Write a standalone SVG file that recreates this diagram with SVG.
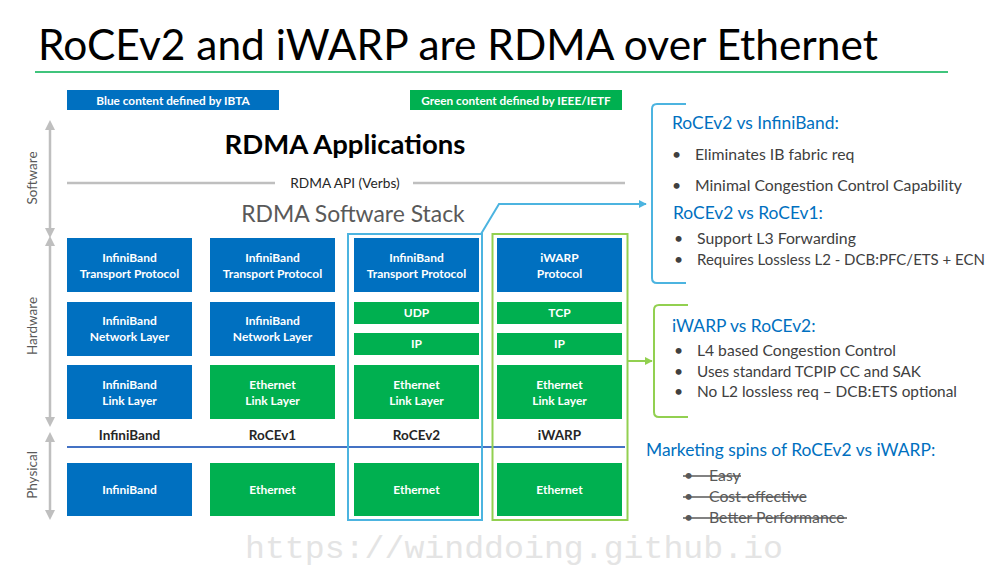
<svg xmlns="http://www.w3.org/2000/svg" width="995" height="567" viewBox="0 0 995 567">
  <style>
    text { font-family: Lato, "Open Sans", "Liberation Sans", sans-serif; }
    .title { font-size: 42px; fill: #000; }
    .legend { font-size: 11.8px; font-weight: bold; fill: #fff; text-anchor: middle; }
    .box-blue { fill: #0070C0; }
    .box-green { fill: #00B050; }
    .bt { font-size: 12px; font-weight: bold; fill: #fff; text-anchor: middle; }
    .col { font-size: 13.5px; font-weight: bold; fill: #262626; text-anchor: middle; }
    .axis { stroke: #BFBFBF; stroke-width: 2.5; fill: none; }
    .axl { font-size: 13.5px; fill: #595959; text-anchor: middle; }
    .h { font-size: 17.4px; fill: #0070C0; }
    .b { font-size: 15.8px; fill: #404040; }
    .s { font-size: 15.8px; fill: #595959; }
    .strike { stroke: #595959; stroke-width: 1.4; }
    .mark { font-family: "Liberation Mono", monospace; font-size: 32px; fill: #E4E4E4; }
  </style>
  <defs>
    <marker id="arrGrey" viewBox="0 0 10 10" refX="5" refY="5" markerWidth="4" markerHeight="4" orient="auto-start-reverse">
      <path d="M0,0 L10,5 L0,10 z" fill="#BFBFBF"/>
    </marker>
    <marker id="arrBlue" viewBox="0 0 10 10" refX="9" refY="5" markerWidth="4" markerHeight="4" orient="auto">
      <path d="M0,0 L10,5 L0,10 z" fill="#4CB4E0"/>
    </marker>
    <marker id="arrGreen" viewBox="0 0 10 10" refX="9" refY="5" markerWidth="4" markerHeight="4" orient="auto">
      <path d="M0,0 L10,5 L0,10 z" fill="#92D050"/>
    </marker>
  </defs>

  <rect width="995" height="567" fill="#fff"/>

  <!-- title -->
  <text class="title" x="38" y="60" textLength="840" lengthAdjust="spacingAndGlyphs">RoCEv2 and iWARP are RDMA over Ethernet</text>
  <line x1="35" y1="72" x2="948" y2="72" stroke="#00B050" stroke-width="1.5"/>

  <!-- legend -->
  <g id="legend-ibta">
    <rect x="67" y="90" width="212" height="20" class="box-blue"/>
    <text class="legend" x="173" y="104.5">Blue content defined by IBTA</text>
  </g>
  <g id="legend-ieee">
    <rect x="410" y="90" width="212" height="20" class="box-green"/>
    <text class="legend" x="516" y="104.5">Green content defined by IEEE/IETF</text>
  </g>

  <!-- layer axes -->
  <g id="axes">
    <line class="axis" x1="50" y1="125" x2="50" y2="233" marker-start="url(#arrGrey)" marker-end="url(#arrGrey)"/>
    <line class="axis" x1="50" y1="241" x2="50" y2="422" marker-start="url(#arrGrey)" marker-end="url(#arrGrey)"/>
    <line class="axis" x1="50" y1="437" x2="50" y2="515" marker-start="url(#arrGrey)" marker-end="url(#arrGrey)"/>
    <text class="axl" transform="translate(37,178) rotate(-90)">Software</text>
    <text class="axl" transform="translate(37,326) rotate(-90)">Hardware</text>
    <text class="axl" transform="translate(37,475) rotate(-90)">Physical</text>
  </g>

  <!-- software stack -->
  <g id="software">
    <text x="345" y="154" font-size="27.5" font-weight="bold" fill="#000" text-anchor="middle">RDMA Applications</text>
    <line x1="67" y1="183" x2="275" y2="183" stroke="#BFBFBF" stroke-width="2.5"/>
    <line x1="413" y1="183" x2="625" y2="183" stroke="#BFBFBF" stroke-width="2.5"/>
    <text x="345" y="188" font-size="13.7" fill="#262626" text-anchor="middle">RDMA API (Verbs)</text>
    <text x="353" y="222" font-size="22.9" fill="#595959" text-anchor="middle">RDMA Software Stack</text>
  </g>

  <!-- column 1: InfiniBand -->
  <g id="col-infiniband">
    <rect x="67" y="238" width="125" height="54" class="box-blue"/>
    <text class="bt" x="129.5" y="262">InfiniBand</text>
    <text class="bt" x="129.5" y="278">Transport Protocol</text>
    <rect x="67" y="302" width="125" height="54" class="box-blue"/>
    <text class="bt" x="129.5" y="325">InfiniBand</text>
    <text class="bt" x="129.5" y="341">Network Layer</text>
    <rect x="67" y="365" width="125" height="54" class="box-blue"/>
    <text class="bt" x="129.5" y="389">InfiniBand</text>
    <text class="bt" x="129.5" y="405">Link Layer</text>
    <text class="col" x="129.5" y="440">InfiniBand</text>
    <rect x="67" y="463" width="125" height="53" class="box-blue"/>
    <text class="bt" x="129.5" y="494">InfiniBand</text>
  </g>

  <!-- column 2: RoCEv1 -->
  <g id="col-rocev1">
    <rect x="210" y="238" width="125" height="54" class="box-blue"/>
    <text class="bt" x="272.5" y="262">InfiniBand</text>
    <text class="bt" x="272.5" y="278">Transport Protocol</text>
    <rect x="210" y="302" width="125" height="54" class="box-blue"/>
    <text class="bt" x="272.5" y="325">InfiniBand</text>
    <text class="bt" x="272.5" y="341">Network Layer</text>
    <rect x="210" y="365" width="125" height="54" class="box-green"/>
    <text class="bt" x="272.5" y="389">Ethernet</text>
    <text class="bt" x="272.5" y="405">Link Layer</text>
    <text class="col" x="272.5" y="440">RoCEv1</text>
    <rect x="210" y="463" width="125" height="53" class="box-green"/>
    <text class="bt" x="272.5" y="494">Ethernet</text>
  </g>

  <!-- column 3: RoCEv2 -->
  <g id="col-rocev2">
    <rect x="354" y="238" width="125" height="54" class="box-blue"/>
    <text class="bt" x="416.5" y="262">InfiniBand</text>
    <text class="bt" x="416.5" y="278">Transport Protocol</text>
    <rect x="354" y="302" width="125" height="22" class="box-green"/>
    <text class="bt" x="416.5" y="317">UDP</text>
    <rect x="354" y="333" width="125" height="22" class="box-green"/>
    <text class="bt" x="416.5" y="348">IP</text>
    <rect x="354" y="365" width="125" height="54" class="box-green"/>
    <text class="bt" x="416.5" y="389">Ethernet</text>
    <text class="bt" x="416.5" y="405">Link Layer</text>
    <text class="col" x="416.5" y="440">RoCEv2</text>
    <rect x="354" y="463" width="125" height="53" class="box-green"/>
    <text class="bt" x="416.5" y="494">Ethernet</text>
  </g>

  <!-- column 4: iWARP -->
  <g id="col-iwarp">
    <rect x="497" y="238" width="125" height="54" class="box-blue"/>
    <text class="bt" x="559.5" y="262">iWARP</text>
    <text class="bt" x="559.5" y="278">Protocol</text>
    <rect x="497" y="302" width="125" height="22" class="box-green"/>
    <text class="bt" x="559.5" y="317">TCP</text>
    <rect x="497" y="333" width="125" height="22" class="box-green"/>
    <text class="bt" x="559.5" y="348">IP</text>
    <rect x="497" y="365" width="125" height="54" class="box-green"/>
    <text class="bt" x="559.5" y="389">Ethernet</text>
    <text class="bt" x="559.5" y="405">Link Layer</text>
    <text class="col" x="559.5" y="440">iWARP</text>
    <rect x="497" y="463" width="125" height="53" class="box-green"/>
    <text class="bt" x="559.5" y="494">Ethernet</text>
  </g>

  <!-- hardware / physical divider -->
  <line x1="67" y1="447" x2="625" y2="447" stroke="#4472C4" stroke-width="2"/>

  <!-- highlight frames -->
  <g id="frame-rocev2">
    <rect x="348" y="234" width="134" height="286" fill="none" stroke="#4CB4E0" stroke-width="2"/>
  </g>
  <g id="frame-iwarp">
    <rect x="492.5" y="234" width="135" height="286" fill="none" stroke="#92D050" stroke-width="2"/>
  </g>

  <!-- connectors -->
  <g id="connectors">
    <polyline points="481,234 499,204 646,204" fill="none" stroke="#4CB4E0" stroke-width="2" marker-end="url(#arrBlue)"/>
    <line x1="628" y1="361" x2="652" y2="361" stroke="#92D050" stroke-width="2" marker-end="url(#arrGreen)"/>
  </g>

  <!-- RoCEv2 comparison notes -->
  <g id="notes-rocev2">
    <path d="M686,104 L657,104 Q652,104 652,109 L652,278 Q652,283 657,283 L686,283" fill="none" stroke="#4CB4E0" stroke-width="2"/>
    <text class="h" x="672" y="129">RoCEv2 vs InfiniBand:</text>
    <text class="b" x="672" y="160">•</text>
    <text class="b" x="695" y="160">Eliminates IB fabric req</text>
    <text class="b" x="672" y="191">•</text>
    <text class="b" x="695" y="191" textLength="267" lengthAdjust="spacingAndGlyphs">Minimal Congestion Control Capability</text>
    <text class="h" x="673" y="219">RoCEv2 vs RoCEv1:</text>
    <text class="b" x="674" y="244">•</text>
    <text class="b" x="697" y="244">Support L3 Forwarding</text>
    <text class="b" x="674" y="265">•</text>
    <text class="b" x="697" y="265" style="font-size:14.5px" textLength="288" lengthAdjust="spacingAndGlyphs">Requires Lossless L2 - DCB:PFC/ETS + ECN</text>
  </g>

  <!-- iWARP comparison notes -->
  <g id="notes-iwarp">
    <path d="M688,305 L659,305 Q654,305 654,310 L654,412 Q654,417 659,417 L688,417" fill="none" stroke="#92D050" stroke-width="2"/>
    <text class="h" x="672" y="332">iWARP vs RoCEv2:</text>
    <text class="b" x="674" y="356">•</text>
    <text class="b" x="697" y="356" textLength="199" lengthAdjust="spacingAndGlyphs">L4 based Congestion Control</text>
    <text class="b" x="674" y="377">•</text>
    <text class="b" x="697" y="377" textLength="224" lengthAdjust="spacingAndGlyphs">Uses standard TCPIP CC and SAK</text>
    <text class="b" x="674" y="397">•</text>
    <text class="b" x="697" y="397" textLength="260" lengthAdjust="spacingAndGlyphs">No L2 lossless req – DCB:ETS optional</text>
  </g>

  <!-- marketing notes -->
  <g id="notes-marketing">
    <text class="h" x="646" y="456">Marketing spins of RoCEv2 vs iWARP:</text>
    <text class="s" x="684" y="481">•</text>
    <text class="s" x="709" y="481">Easy</text>
    <line class="strike" x1="683" y1="476" x2="741" y2="476"/>
    <text class="s" x="684" y="502">•</text>
    <text class="s" x="709" y="502">Cost-effective</text>
    <line class="strike" x1="683" y1="497" x2="806" y2="497"/>
    <text class="s" x="684" y="523">•</text>
    <text class="s" x="709" y="523">Better Performance</text>
    <line class="strike" x1="683" y1="518" x2="847" y2="518"/>
  </g>

  <!-- watermark -->
  <text class="mark" x="245" y="558" textLength="538" lengthAdjust="spacingAndGlyphs">https://winddoing.github.io</text>
</svg>
